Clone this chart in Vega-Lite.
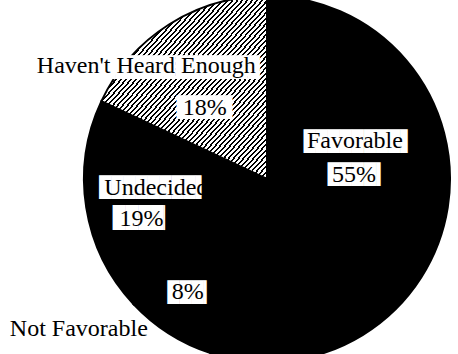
{
"$schema":"https://vega.github.io/schema/vega-lite/v6.json",
"autosize":"none",
"width":382,"height":350,
"padding":{"left":76,"top":4,"right":0,"bottom":0},
"background":"white",
"config":{"view":{"stroke":null}},
"data":{"values":[
{"category":"Favorable","share":0.55,"order":1},
{"category":"Not Favorable","share":0.08,"order":2},
{"category":"Undecided","share":0.19,"order":3},
{"category":"Haven't Heard Enough","share":0.18,"order":4}
]},
"encoding":{"theta":{"field":"share","type":"quantitative","stack":true},"order":{"field":"order","type":"quantitative"}},
"layer":[
{"mark":{"type":"arc","outerRadius":183,"stroke":"black","strokeWidth":2},
 "encoding":{"fill":{"condition":{"test":"datum.category === \"Haven't Heard Enough\"","value":{"gradient":"linear","x1":0,"y1":0,"x2":1,"y2":1,"stops":[
{"offset":0,"color":"#000"},{"offset":0.006,"color":"#000"},{"offset":0.006,"color":"#fff"},{"offset":0.015,"color":"#fff"},
{"offset":0.015,"color":"#000"},{"offset":0.021,"color":"#000"},{"offset":0.021,"color":"#fff"},{"offset":0.03,"color":"#fff"},
{"offset":0.03,"color":"#000"},{"offset":0.036,"color":"#000"},{"offset":0.036,"color":"#fff"},{"offset":0.045,"color":"#fff"},
{"offset":0.045,"color":"#000"},{"offset":0.051,"color":"#000"},{"offset":0.051,"color":"#fff"},{"offset":0.06,"color":"#fff"},
{"offset":0.06,"color":"#000"},{"offset":0.066,"color":"#000"},{"offset":0.066,"color":"#fff"},{"offset":0.075,"color":"#fff"},
{"offset":0.075,"color":"#000"},{"offset":0.081,"color":"#000"},{"offset":0.081,"color":"#fff"},{"offset":0.09,"color":"#fff"},
{"offset":0.09,"color":"#000"},{"offset":0.096,"color":"#000"},{"offset":0.096,"color":"#fff"},{"offset":0.105,"color":"#fff"},
{"offset":0.105,"color":"#000"},{"offset":0.111,"color":"#000"},{"offset":0.111,"color":"#fff"},{"offset":0.12,"color":"#fff"},
{"offset":0.12,"color":"#000"},{"offset":0.126,"color":"#000"},{"offset":0.126,"color":"#fff"},{"offset":0.135,"color":"#fff"},
{"offset":0.135,"color":"#000"},{"offset":0.141,"color":"#000"},{"offset":0.141,"color":"#fff"},{"offset":0.15,"color":"#fff"},
{"offset":0.15,"color":"#000"},{"offset":0.156,"color":"#000"},{"offset":0.156,"color":"#fff"},{"offset":0.165,"color":"#fff"},
{"offset":0.165,"color":"#000"},{"offset":0.171,"color":"#000"},{"offset":0.171,"color":"#fff"},{"offset":0.18,"color":"#fff"},
{"offset":0.18,"color":"#000"},{"offset":0.186,"color":"#000"},{"offset":0.186,"color":"#fff"},{"offset":0.195,"color":"#fff"},
{"offset":0.195,"color":"#000"},{"offset":0.201,"color":"#000"},{"offset":0.201,"color":"#fff"},{"offset":0.21,"color":"#fff"},
{"offset":0.21,"color":"#000"},{"offset":0.216,"color":"#000"},{"offset":0.216,"color":"#fff"},{"offset":0.225,"color":"#fff"},
{"offset":0.225,"color":"#000"},{"offset":0.231,"color":"#000"},{"offset":0.231,"color":"#fff"},{"offset":0.24,"color":"#fff"},
{"offset":0.24,"color":"#000"},{"offset":0.246,"color":"#000"},{"offset":0.246,"color":"#fff"},{"offset":0.255,"color":"#fff"},
{"offset":0.255,"color":"#000"},{"offset":0.261,"color":"#000"},{"offset":0.261,"color":"#fff"},{"offset":0.27,"color":"#fff"},
{"offset":0.27,"color":"#000"},{"offset":0.276,"color":"#000"},{"offset":0.276,"color":"#fff"},{"offset":0.285,"color":"#fff"},
{"offset":0.285,"color":"#000"},{"offset":0.291,"color":"#000"},{"offset":0.291,"color":"#fff"},{"offset":0.3,"color":"#fff"},
{"offset":0.3,"color":"#000"},{"offset":0.306,"color":"#000"},{"offset":0.306,"color":"#fff"},{"offset":0.315,"color":"#fff"},
{"offset":0.315,"color":"#000"},{"offset":0.321,"color":"#000"},{"offset":0.321,"color":"#fff"},{"offset":0.33,"color":"#fff"},
{"offset":0.33,"color":"#000"},{"offset":0.336,"color":"#000"},{"offset":0.336,"color":"#fff"},{"offset":0.345,"color":"#fff"},
{"offset":0.345,"color":"#000"},{"offset":0.351,"color":"#000"},{"offset":0.351,"color":"#fff"},{"offset":0.36,"color":"#fff"},
{"offset":0.36,"color":"#000"},{"offset":0.366,"color":"#000"},{"offset":0.366,"color":"#fff"},{"offset":0.375,"color":"#fff"},
{"offset":0.375,"color":"#000"},{"offset":0.381,"color":"#000"},{"offset":0.381,"color":"#fff"},{"offset":0.39,"color":"#fff"},
{"offset":0.39,"color":"#000"},{"offset":0.396,"color":"#000"},{"offset":0.396,"color":"#fff"},{"offset":0.405,"color":"#fff"},
{"offset":0.405,"color":"#000"},{"offset":0.411,"color":"#000"},{"offset":0.411,"color":"#fff"},{"offset":0.42,"color":"#fff"},
{"offset":0.42,"color":"#000"},{"offset":0.426,"color":"#000"},{"offset":0.426,"color":"#fff"},{"offset":0.435,"color":"#fff"},
{"offset":0.435,"color":"#000"},{"offset":0.441,"color":"#000"},{"offset":0.441,"color":"#fff"},{"offset":0.45,"color":"#fff"},
{"offset":0.45,"color":"#000"},{"offset":0.456,"color":"#000"},{"offset":0.456,"color":"#fff"},{"offset":0.465,"color":"#fff"},
{"offset":0.465,"color":"#000"},{"offset":0.471,"color":"#000"},{"offset":0.471,"color":"#fff"},{"offset":0.48,"color":"#fff"},
{"offset":0.48,"color":"#000"},{"offset":0.486,"color":"#000"},{"offset":0.486,"color":"#fff"},{"offset":0.495,"color":"#fff"},
{"offset":0.495,"color":"#000"},{"offset":0.501,"color":"#000"},{"offset":0.501,"color":"#fff"},{"offset":0.51,"color":"#fff"},
{"offset":0.51,"color":"#000"},{"offset":0.516,"color":"#000"},{"offset":0.516,"color":"#fff"},{"offset":0.525,"color":"#fff"},
{"offset":0.525,"color":"#000"},{"offset":0.531,"color":"#000"},{"offset":0.531,"color":"#fff"},{"offset":0.54,"color":"#fff"},
{"offset":0.54,"color":"#000"},{"offset":0.546,"color":"#000"},{"offset":0.546,"color":"#fff"},{"offset":0.555,"color":"#fff"},
{"offset":0.555,"color":"#000"},{"offset":0.561,"color":"#000"},{"offset":0.561,"color":"#fff"},{"offset":0.57,"color":"#fff"},
{"offset":0.57,"color":"#000"},{"offset":0.576,"color":"#000"},{"offset":0.576,"color":"#fff"},{"offset":0.585,"color":"#fff"},
{"offset":0.585,"color":"#000"},{"offset":0.591,"color":"#000"},{"offset":0.591,"color":"#fff"},{"offset":0.6,"color":"#fff"},
{"offset":0.6,"color":"#000"},{"offset":0.606,"color":"#000"},{"offset":0.606,"color":"#fff"},{"offset":0.615,"color":"#fff"},
{"offset":0.615,"color":"#000"},{"offset":0.621,"color":"#000"},{"offset":0.621,"color":"#fff"},{"offset":0.63,"color":"#fff"},
{"offset":0.63,"color":"#000"},{"offset":0.636,"color":"#000"},{"offset":0.636,"color":"#fff"},{"offset":0.645,"color":"#fff"},
{"offset":0.645,"color":"#000"},{"offset":0.651,"color":"#000"},{"offset":0.651,"color":"#fff"},{"offset":0.66,"color":"#fff"},
{"offset":0.66,"color":"#000"},{"offset":0.666,"color":"#000"},{"offset":0.666,"color":"#fff"},{"offset":0.675,"color":"#fff"},
{"offset":0.675,"color":"#000"},{"offset":0.681,"color":"#000"},{"offset":0.681,"color":"#fff"},{"offset":0.69,"color":"#fff"},
{"offset":0.69,"color":"#000"},{"offset":0.696,"color":"#000"},{"offset":0.696,"color":"#fff"},{"offset":0.705,"color":"#fff"},
{"offset":0.705,"color":"#000"},{"offset":0.711,"color":"#000"},{"offset":0.711,"color":"#fff"},{"offset":0.72,"color":"#fff"},
{"offset":0.72,"color":"#000"},{"offset":0.726,"color":"#000"},{"offset":0.726,"color":"#fff"},{"offset":0.735,"color":"#fff"},
{"offset":0.735,"color":"#000"},{"offset":0.741,"color":"#000"},{"offset":0.741,"color":"#fff"},{"offset":0.75,"color":"#fff"},
{"offset":0.75,"color":"#000"},{"offset":0.756,"color":"#000"},{"offset":0.756,"color":"#fff"},{"offset":0.765,"color":"#fff"},
{"offset":0.765,"color":"#000"},{"offset":0.771,"color":"#000"},{"offset":0.771,"color":"#fff"},{"offset":0.78,"color":"#fff"},
{"offset":0.78,"color":"#000"},{"offset":0.786,"color":"#000"},{"offset":0.786,"color":"#fff"},{"offset":0.795,"color":"#fff"},
{"offset":0.795,"color":"#000"},{"offset":0.801,"color":"#000"},{"offset":0.801,"color":"#fff"},{"offset":0.81,"color":"#fff"},
{"offset":0.81,"color":"#000"},{"offset":0.816,"color":"#000"},{"offset":0.816,"color":"#fff"},{"offset":0.825,"color":"#fff"},
{"offset":0.825,"color":"#000"},{"offset":0.831,"color":"#000"},{"offset":0.831,"color":"#fff"},{"offset":0.84,"color":"#fff"},
{"offset":0.84,"color":"#000"},{"offset":0.846,"color":"#000"},{"offset":0.846,"color":"#fff"},{"offset":0.855,"color":"#fff"},
{"offset":0.855,"color":"#000"},{"offset":0.861,"color":"#000"},{"offset":0.861,"color":"#fff"},{"offset":0.87,"color":"#fff"},
{"offset":0.87,"color":"#000"},{"offset":0.876,"color":"#000"},{"offset":0.876,"color":"#fff"},{"offset":0.885,"color":"#fff"},
{"offset":0.885,"color":"#000"},{"offset":0.891,"color":"#000"},{"offset":0.891,"color":"#fff"},{"offset":0.9,"color":"#fff"},
{"offset":0.9,"color":"#000"},{"offset":0.906,"color":"#000"},{"offset":0.906,"color":"#fff"},{"offset":0.915,"color":"#fff"},
{"offset":0.915,"color":"#000"},{"offset":0.921,"color":"#000"},{"offset":0.921,"color":"#fff"},{"offset":0.93,"color":"#fff"},
{"offset":0.93,"color":"#000"},{"offset":0.936,"color":"#000"},{"offset":0.936,"color":"#fff"},{"offset":0.945,"color":"#fff"},
{"offset":0.945,"color":"#000"},{"offset":0.951,"color":"#000"},{"offset":0.951,"color":"#fff"},{"offset":0.96,"color":"#fff"},
{"offset":0.96,"color":"#000"},{"offset":0.966,"color":"#000"},{"offset":0.966,"color":"#fff"},{"offset":0.975,"color":"#fff"},
{"offset":0.975,"color":"#000"},{"offset":0.981,"color":"#000"},{"offset":0.981,"color":"#fff"},{"offset":0.99,"color":"#fff"},
{"offset":0.99,"color":"#000"},{"offset":0.996,"color":"#000"},{"offset":0.996,"color":"#fff"},{"offset":1,"color":"#fff"}
]}},"value":"black"}}},
{"mark":{"type":"text","radius":145,"dx":-44,"dy":11,"font":"DejaVu Sans Mono","fontSize":20,"fill":"white"},
 "encoding":{"text":{"condition":{"test":"datum.category === \"Haven't Heard Enough\"","value":"███████████████████"},"value":""}}},
{"mark":{"type":"text","radius":145,"dx":-43,"dy":9,"font":"Liberation Serif","fontSize":24,"fill":"black"},
 "encoding":{"text":{"condition":{"test":"datum.category === \"Haven't Heard Enough\"","field":"category"},"value":""}}},
{"mark":{"type":"text","radius":90,"dx":-12,"dy":5,"font":"DejaVu Sans Mono","fontSize":20,"fill":"white"},
 "encoding":{"text":{"condition":{"test":"datum.category === \"Haven't Heard Enough\"","value":"████▋"},"value":""}}},
{"mark":{"type":"text","radius":90,"dx":-14,"dy":5,"font":"Liberation Serif","fontSize":24,"fill":"black"},
 "encoding":{"text":{"condition":{"test":"datum.category === \"Haven't Heard Enough\"","field":"share","type":"quantitative","format":".0%"},"value":""}}},
{"mark":{"type":"text","radius":90,"dx":2,"dy":-51,"font":"DejaVu Sans Mono","fontSize":20,"fill":"white"},
 "encoding":{"text":{"condition":{"test":"datum.category === 'Favorable'","value":"████████▋"},"value":""}}},
{"mark":{"type":"text","radius":90,"dx":-1,"dy":-52,"font":"Liberation Serif","fontSize":24,"fill":"black"},
 "encoding":{"text":{"condition":{"test":"datum.category === 'Favorable'","field":"category"},"value":""}}},
{"mark":{"type":"text","radius":90,"dx":2,"dy":-18,"font":"DejaVu Sans Mono","fontSize":20,"fill":"white"},
 "encoding":{"text":{"condition":{"test":"datum.category === 'Favorable'","value":"████▍"},"value":""}}},
{"mark":{"type":"text","radius":90,"dx":-2,"dy":-18,"font":"Liberation Serif","fontSize":24,"fill":"black"},
 "encoding":{"text":{"condition":{"test":"datum.category === 'Favorable'","field":"share","type":"quantitative","format":".0%"},"value":""}}},
{"mark":{"type":"text","radius":110,"dx":-5,"dy":-8,"font":"DejaVu Sans Mono","fontSize":20,"fill":"white"},
 "encoding":{"text":{"condition":{"test":"datum.category === 'Undecided'","value":"████████▌"},"value":""}}},
{"mark":{"type":"text","radius":110,"dx":-2,"dy":-8,"font":"Liberation Serif","fontSize":24,"fill":"black"},
 "encoding":{"text":{"condition":{"test":"datum.category === 'Undecided'","field":"category"},"value":""}}},
{"mark":{"type":"text","radius":120,"dx":-4,"dy":21,"font":"DejaVu Sans Mono","fontSize":21,"fill":"white"},
 "encoding":{"text":{"condition":{"test":"datum.category === 'Undecided'","value":"████▏"},"value":""}}},
{"mark":{"type":"text","radius":120,"dx":-7,"dy":21,"font":"Liberation Serif","fontSize":24,"fill":"black"},
 "encoding":{"text":{"condition":{"test":"datum.category === 'Undecided'","field":"share","type":"quantitative","format":".0%"},"value":""}}},
{"mark":{"type":"text","radius":135,"dx":-3,"dy":0,"font":"DejaVu Sans Mono","fontSize":20,"fill":"white"},
 "encoding":{"text":{"condition":{"test":"datum.category === 'Not Favorable'","value":"███▎"},"value":""}}},
{"mark":{"type":"text","radius":135,"dx":-7,"dy":-1,"font":"Liberation Serif","fontSize":24,"fill":"black"},
 "encoding":{"text":{"condition":{"test":"datum.category === 'Not Favorable'","field":"share","type":"quantitative","format":".0%"},"value":""}}},
{"mark":{"type":"text","radius":200,"dx":-81,"dy":-19,"font":"Liberation Serif","fontSize":24,"fill":"black"},
 "encoding":{"text":{"condition":{"test":"datum.category === 'Not Favorable'","field":"category"},"value":""}}}
]
}
